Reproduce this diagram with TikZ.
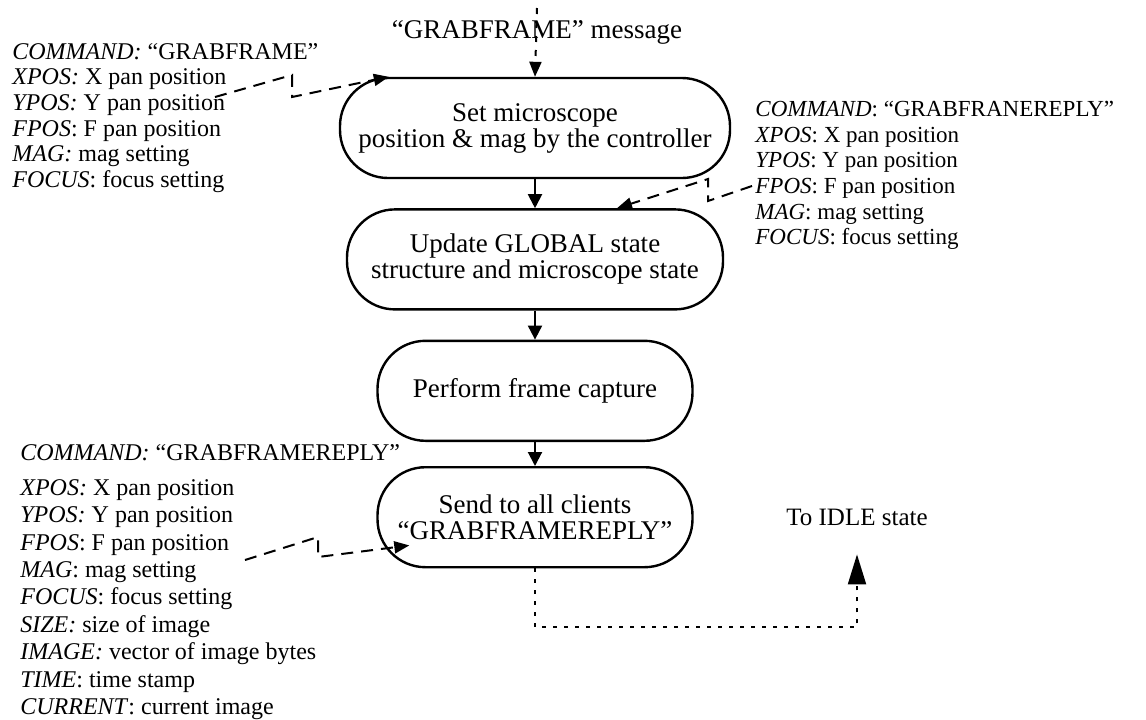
\documentclass[tikz,border=0pt]{standalone}
\usepackage{fontspec}
\setmainfont{Liberation Serif}
\usetikzlibrary{positioning}
\usetikzlibrary{arrows.meta}
\newcommand{\Fkey}[1]{\textit{#1}}
\tikzstyle{state} = [rectangle,draw=black,line width=1.2pt,rounded corners=24pt,minimum height=50pt,align=center,inner sep=2pt, font=\fontsize{13.5}{13}\selectfont]
\tikzstyle{info} = [anchor=north west,align=left,inner sep=0pt, font=\fontsize{12}{12.8}\selectfont]
\tikzstyle{flow} = [line width=1pt, -{Triangle[width=7pt,length=7pt]}]
\tikzstyle{msg} = [line width=1pt, dash pattern=on 6pt off 4pt, -{Triangle[width=6pt,length=7.5pt]}]
\tikzstyle{back} = [line width=1pt, dash pattern=on 2pt off 3.5pt, -{Triangle[width=9pt,length=15pt]}]

\begin{document}
\begin{tikzpicture}[x=0.5pt,y=-0.5pt]
\useasboundingbox (0,0) rectangle (1146,719);

% Define nodes
\node[state, minimum width=195pt]                          (set)  at (535,128) {Set microscope\\position \& mag by the controller};
\node[state, minimum width=188pt, below = 14.5pt of set]   (upd)  {Update GLOBAL state\\structure and microscope state};
\node[state, minimum width=157.5pt, below = 14.5pt of upd] (cap)  {Perform frame capture};
\node[state, minimum width=157.5pt, below = 12pt of cap]   (send) {Send to all clients\\``GRABFRAMEREPLY''};

\node[font=\fontsize{13.5}{13}\selectfont]                 (grab) at (537,32)  {``GRABFRAME'' message};
\node[font=\fontsize{12.5}{13}\selectfont]                 (idle) at (857,517) {To IDLE state};

\node[info] (reqA) at (12,43) {\Fkey{COMMAND:} ``GRABFRAME''\\
  \Fkey{XPOS:} X pan position\\
  \Fkey{YPOS:} Y pan position\\
  \Fkey{FPOS}: F pan position\\
  \Fkey{MAG:} mag setting\\
  \Fkey{FOCUS}: focus setting};
\node[info, font=\fontsize{11.5}{12.8}\selectfont] (repB) at (755,101) {\Fkey{COMMAND}: ``GRABFRANEREPLY''\\
  \Fkey{XPOS}: X pan position\\
  \Fkey{YPOS}: Y pan position\\
  \Fkey{FPOS}: F pan position\\
  \Fkey{MAG}: mag setting\\
  \Fkey{FOCUS}: focus setting};
\node[info, font=\fontsize{12}{13.7}\selectfont] (repC) at (20,444) {\Fkey{COMMAND:} ``GRABFRAMEREPLY''\\[3.8pt]
  \Fkey{XPOS:} X pan position\\
  \Fkey{YPOS:} Y pan position\\
  \Fkey{FPOS}: F pan position\\
  \Fkey{MAG}: mag setting\\
  \Fkey{FOCUS}: focus setting\\
  \Fkey{SIZE:} size of image\\
  \Fkey{IMAGE:} vector of image bytes\\
  \Fkey{TIME}: time stamp\\
  \Fkey{CURRENT}: current image};

\coordinate (in)  at (537,8);
\coordinate (ya)  at (215,97);
\coordinate (fb)  at (752,186);
\coordinate (fc)  at (245,560);

% Edges
\draw[msg, dash pattern=on 3pt off 4pt] (in) -- (set.north);
\draw[flow] (set) -- (upd);
\draw[flow] (upd) -- (cap);
\draw[flow] (cap) -- (send);

\draw[msg] (ya) -- ++(77,-22) -- ++(0,22) -- ([xshift=25pt]set.north west);
\draw[msg] (fb) -- ++(-44,15) -- ++(0,-22) -- ([xshift=41pt]upd.north);
\draw[msg] (fc) -- ++(73,-23) -- ++(0,20) -- ([xshift=16.5pt,yshift=11.5pt]send.south west);

\draw[back] (send.south) -- ++(0,59) -| ([yshift=-11pt]idle.south);
\end{tikzpicture}
\end{document}
